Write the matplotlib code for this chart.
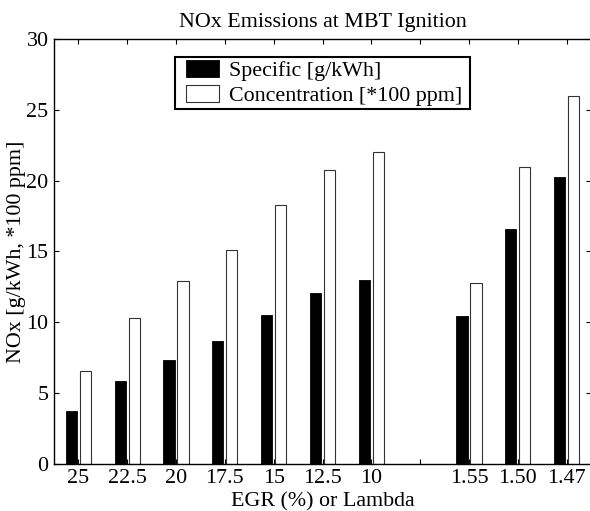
import matplotlib
matplotlib.use("Agg")
import matplotlib.pyplot as plt
from matplotlib.patches import Rectangle
import numpy as np

# ---- data ----
egr_labels = ['25', '22.5', '20', '17.5', '15', '12.5', '10']
egr_specific = [3.70, 5.83, 7.33, 8.68, 10.5, 12.05, 13.0]
egr_concentration = [6.56, 10.26, 12.92, 15.14, 18.28, 20.74, 22.03]

lambda_labels = ['1.55', '1.50', '1.47']
lambda_specific = [10.43, 16.6, 20.25]
lambda_concentration = [12.76, 21.0, 26.0]

series_names = ['Specific [g/kWh]', 'Concentration [*100 ppm]']
title = 'NOx Emissions at MBT Ignition'
xlabel = 'EGR (%) or Lambda'
ylabel = 'NOx [g/kWh, *100 ppm]'
yticks = [0, 5, 10, 15, 20, 25, 30]

plt.rcParams['font.family'] = ['Liberation Serif', 'DejaVu Serif']
FS = 15.8
W, H = 590, 511

fig = plt.figure(figsize=(W / 100, H / 100), dpi=100)
ax_l, ax_r, ax_t, ax_b = 54, 591, 39.5, 463.5
ax = fig.add_axes([ax_l / W, 1 - ax_b / H, (ax_r - ax_l) / W, (ax_b - ax_t) / H])


def axfrac(px, py):
    return ((px - ax_l) / (ax_r - ax_l), (ax_b - py) / (ax_b - ax_t))


n_egr = len(egr_labels)
pos_egr = np.arange(1, n_egr + 1)
pos_lam = np.arange(n_egr + 2, n_egr + 2 + len(lambda_labels))
positions = np.concatenate([pos_egr, pos_lam])
specific = egr_specific + lambda_specific
concentration = egr_concentration + lambda_concentration

bw = 0.229
off = 0.143
ax.bar(positions - off, specific, width=bw, color='black', edgecolor='black',
       linewidth=0.6, label=series_names[0], zorder=2)
ax.bar(positions + off, concentration, width=bw, color='white', edgecolor='#333333',
       linewidth=0.8, label=series_names[1], zorder=2)

all_ticks = np.arange(1, positions.max() + 1)
tick_labels = []
for t in all_ticks:
    if t in pos_egr:
        tick_labels.append(egr_labels[list(pos_egr).index(t)])
    elif t in pos_lam:
        tick_labels.append(lambda_labels[list(pos_lam).index(t)])
    else:
        tick_labels.append('')
ax.set_xticks(all_ticks)
ax.set_xticklabels(tick_labels, fontsize=FS)
ax.set_xlim(0.5, positions.max() + 0.5)
ax.set_ylim(0, 30)
ax.set_yticks(yticks)
ax.set_yticklabels([str(v) for v in yticks], fontsize=FS)

ax.tick_params(direction='in', length=3.3, width=0.8, top=True, right=True, pad=4)
for s in ax.spines.values():
    s.set_linewidth(1.0)

ax.set_title(title, fontsize=FS, pad=9)
ax.set_xlabel(xlabel, fontsize=FS, labelpad=3)
ax.set_ylabel(ylabel, fontsize=FS, labelpad=0)

# legend box drawn separately (MATLAB style)
x0, y0 = axfrac(175, 109)
x1, y1 = axfrac(470, 57)
ax.add_patch(Rectangle((x0, y0), x1 - x0, y1 - y0, transform=ax.transAxes,
                       facecolor='white', edgecolor='black', linewidth=1.5, zorder=5))
leg = ax.legend(loc='center left', bbox_to_anchor=axfrac(186, 83),
                borderaxespad=0, borderpad=0, fontsize=FS, frameon=False,
                handlelength=1.51, handleheight=0.83, handletextpad=0.46,
                labelspacing=0.14)
leg.set_zorder(6)

fig.savefig('out.png', dpi=100)
